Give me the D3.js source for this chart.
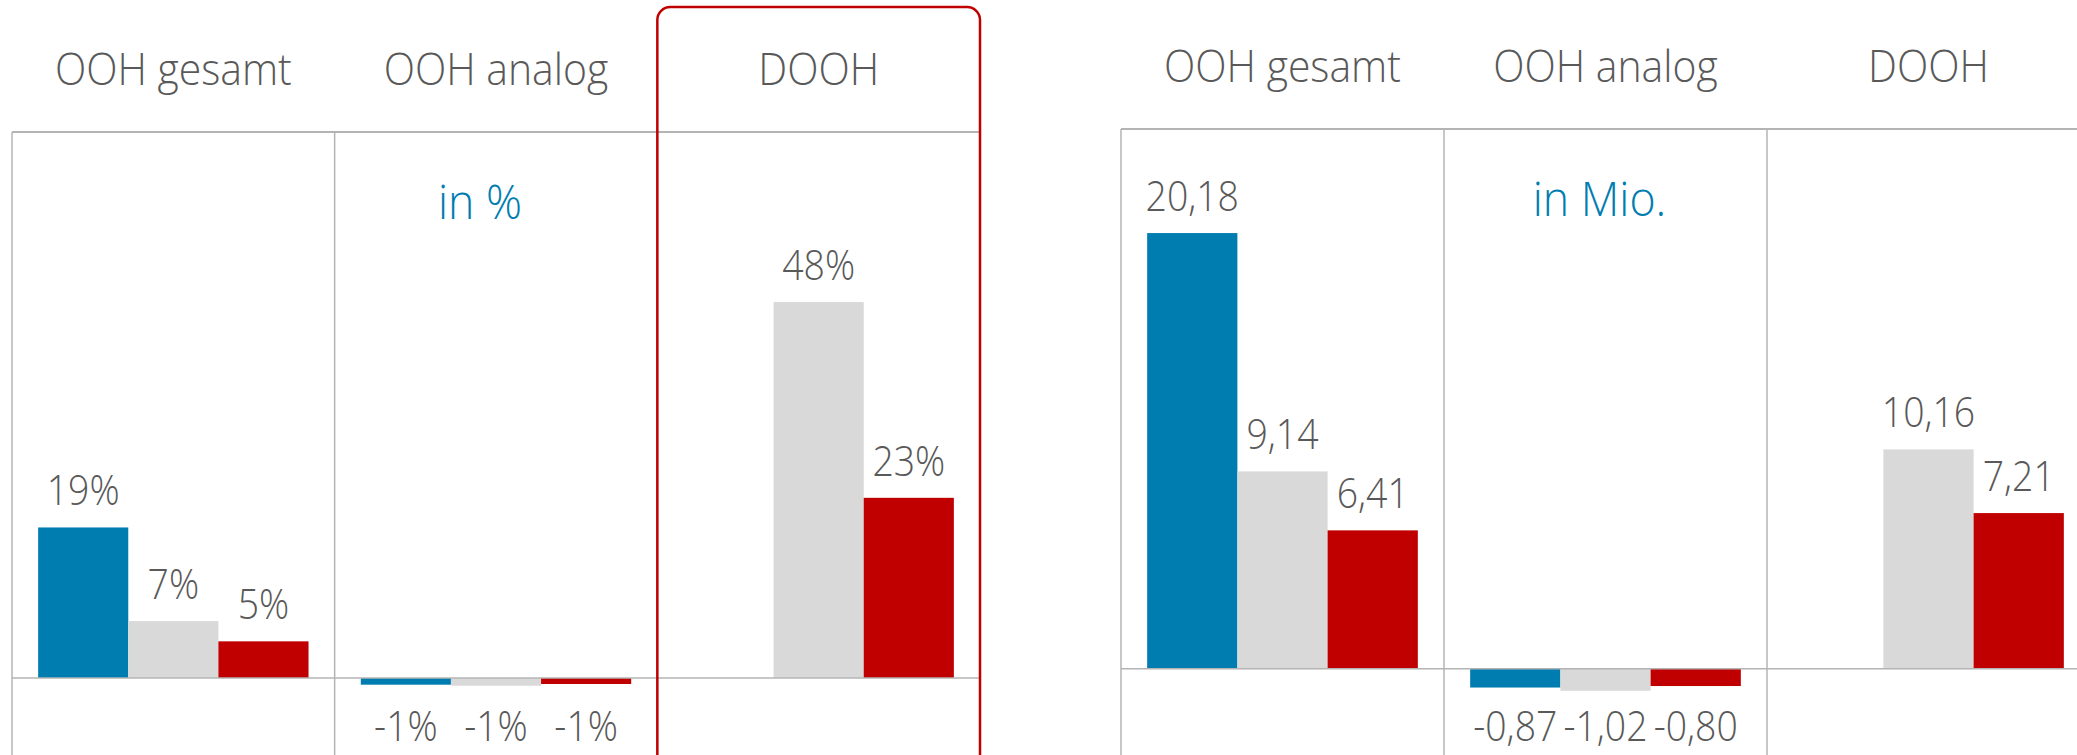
<!DOCTYPE html>
<html>
<head>
<meta charset="utf-8">
<script src="https://cdn.jsdelivr.net/npm/d3@7"></script>
<style>
  html, body { margin: 0; padding: 0; background: #fff; overflow: hidden; }
  svg { display: block; }
  text { font-family: "Segoe UI", "Open Sans", sans-serif; font-weight: 350; fill: #595959; }
</style>
</head>
<body>
<div id="chart"></div>
<script>
const categories = ["OOH gesamt", "OOH analog", "DOOH"];
const seriesKeys = ["s1", "s2", "s3"];
const seriesColors = ["#007DB0", "#D9D9D9", "#C00000"];

// growth in %, per category, per series (null = no bar)
const pctValues = [
    [19.3, 7.3, 4.7],
    [-0.86, -0.99, -0.77],
    [null, 48.2, 23.1]
];
// growth in Mio.
const mioValues = [
    [20.18, 9.14, 6.41],
    [-0.87, -1.02, -0.80],
    [null, 10.16, 7.21]
];
const pctDomain = [-10, 70];
const mioDomain = [-5, 25];

const width = 2077, height = 755;

const svg = d3.select("#chart")
    .append("svg")
    .attr("width", width)
    .attr("height", height);

function addText(g, x, y, str, size, sx, color) {
    return g.append("text")
        .attr("transform", `translate(${x},${y}) scale(${sx},1)`)
        .attr("text-anchor", "middle")
        .style("font-size", size + "px")
        .style("fill", color || "#595959")
        .text(str);
}

const drawPanel = (props) => {
    const g = svg.append("g");

    const xCat = d3.scaleBand()
        .domain(categories)
        .range([props.left, props.right])
        .paddingInner(0)
        .paddingOuter(0);

    const xSer = d3.scaleBand()
        .domain(seriesKeys)
        .range([0, xCat.bandwidth()])
        .paddingInner(0)
        .paddingOuter(0.29);

    const y = d3.scaleLinear()
        .domain(props.domain)
        .range([props.bottom, props.top]);

    // frame
    const lineColor = "#B4B4B4";
    g.append("line")
        .attr("x1", props.left).attr("x2", props.right)
        .attr("y1", props.top).attr("y2", props.top)
        .attr("stroke", lineColor).attr("stroke-width", 2);
    categories.forEach((c) => {
        g.append("line")
            .attr("x1", xCat(c)).attr("x2", xCat(c))
            .attr("y1", props.top).attr("y2", props.bottom)
            .attr("stroke", lineColor).attr("stroke-width", 1.5);
    });
    g.append("line")
        .attr("x1", props.right).attr("x2", props.right)
        .attr("y1", props.top).attr("y2", props.bottom)
        .attr("stroke", lineColor).attr("stroke-width", 1.5);

    // bars
    props.values.forEach((row, ci) => {
        row.forEach((v, si) => {
            if (v === null) return;
            const x = xCat(categories[ci]) + xSer(seriesKeys[si]);
            g.append("rect")
                .attr("x", x)
                .attr("y", y(Math.max(0, v)))
                .attr("width", xSer.bandwidth())
                .attr("height", Math.abs(y(v) - y(0)))
                .attr("fill", seriesColors[si]);
            const cx = x + xSer.bandwidth() / 2;
            const ty = v >= 0 ? y(v) - 22 : Math.min(y(v) + 57, 741);
            addText(g, cx, ty, props.format(v), 42, 0.89);
        });
    });

    // zero line
    g.append("line")
        .attr("x1", props.left).attr("x2", props.right)
        .attr("y1", y(0)).attr("y2", y(0))
        .attr("stroke", lineColor).attr("stroke-width", 1.5);

    // category headers
    categories.forEach((c) => {
        addText(g, xCat(c) + xCat.bandwidth() / 2, props.top - 47, c, 44, 0.93);
    });

    // unit note
    addText(g, xCat(categories[1]) + xCat.bandwidth() / 2 + props.unitDx, props.top + 87,
        props.unit, 47, 0.95, "#007DB0");

    if (props.highlight) {
        const hx = xCat(props.highlight);
        g.append("rect")
            .attr("x", hx)
            .attr("y", 7)
            .attr("width", xCat.bandwidth())
            .attr("height", 820)
            .attr("rx", 13)
            .attr("fill", "none")
            .attr("stroke", "#C00000")
            .attr("stroke-width", 2.5);
    }
};

drawPanel({
    left: 12, right: 980, top: 132, bottom: 756,
    domain: pctDomain,
    values: pctValues,
    format: (v) => Math.round(v) + "%",
    unit: "in %",
    unitDx: -16,
    highlight: "DOOH"
});

drawPanel({
    left: 1121, right: 2090, top: 129, bottom: 776.7,
    domain: mioDomain,
    values: mioValues,
    format: (v) => v.toFixed(2).replace(".", ","),
    unit: "in Mio.",
    unitDx: -6,
    highlight: null
});
</script>
</body>
</html>
